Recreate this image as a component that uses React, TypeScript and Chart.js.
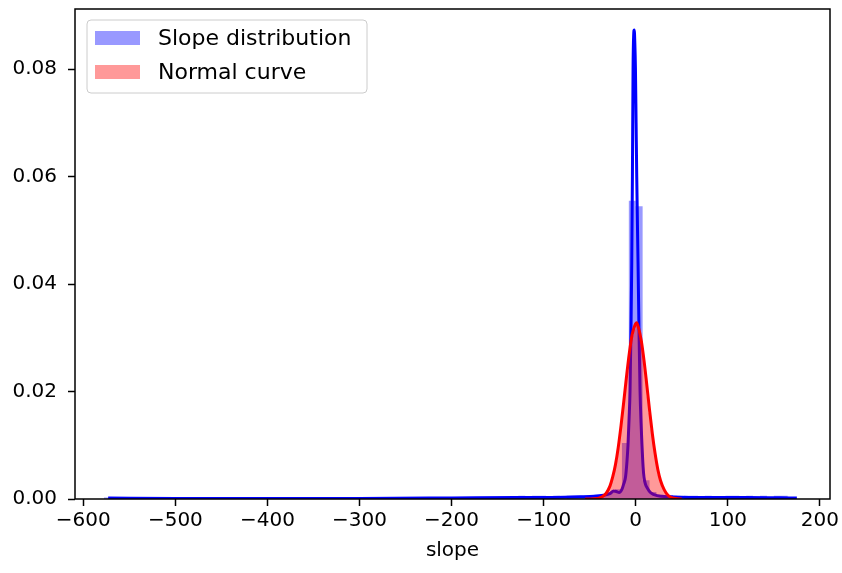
import React, { useEffect, useRef } from "react";
import { Chart, registerables } from "chart.js";

Chart.register(...registerables);

// ---------- data ----------
const seriesLabels = ["Slope distribution", "Normal curve"];
const xAxisLabel = "slope";
const xTicks = [-600, -500, -400, -300, -200, -100, 0, 100, 200];
const yTicks = [0, 0.02, 0.04, 0.06, 0.08];
const xRange = [-609, 211];
const yRange = [0, 0.0912];

// blue histogram: 100 bins of 7.5 starting at -577.5
const blueBinStart = -577.5;
const blueBinWidth = 7.5;
const blueHist = [
  0.0003, 0, 0, 0, 0, 0, 0, 0, 0, 0,
  0, 0, 0, 0, 0, 0, 0, 0, 0, 0,
  0, 0, 0, 0, 0, 0, 0, 0, 0, 0,
  0, 0, 0, 0, 0, 0, 0, 0, 0, 0,
  0, 0, 0, 0, 0, 0, 0, 0, 0, 0,
  0, 0, 0, 0, 0, 0, 0, 0, 0, 0,
  0.0006, 0, 0.0006, 0.0006, 0, 0.0006, 0, 0.0006, 0.0006, 0.0006,
  0.0006, 0.0008, 0.0008, 0.0013, 0.0018, 0.0104, 0.0555, 0.0545, 0.0035, 0.0013,
  0.0008, 0.0006, 0.0006, 0, 0.0006, 0.0006, 0, 0.0006, 0, 0,
  0.0006, 0.0006, 0, 0.0006, 0, 0.0006, 0, 0.0006, 0.0006, 0,
];

// red histogram: 52 bins of 2 starting at -54
const redBinStart = -54;
const redBinWidth = 2;
const redHist = [
  0, 0, 0, 0, 0, 0.0001, 0.0001, 0.0002, 0.0004, 0.0005,
  0.0009, 0.0013, 0.0019, 0.0029, 0.0039, 0.0056, 0.0071, 0.0094, 0.0118, 0.0149,
  0.0176, 0.0208, 0.0238, 0.0266, 0.0289, 0.0305, 0.0316, 0.0322, 0.0312, 0.0298,
  0.0279, 0.025, 0.0221, 0.0191, 0.016, 0.013, 0.0104, 0.008, 0.0061, 0.0045,
  0.0032, 0.0022, 0.0015, 0.001, 0.0006, 0.0004, 0.0003, 0.0002, 0.0001, 0.0001,
  0, 0,
];

// blue density curve
const blueKdeX = [
  -573, -500, -400, -300, -200, -130, -90, -60, -45, -35, -28, -24, -21, -18, -15, -13,
  -11, -9.5, -8.4, -7.2, -6.2, -5.2, -4.3, -3.6, -2.9, -2.2, -1.6, -1.0, -0.3, 0.4,
  1.1, 2.5, 3.6, 4.7, 5.8, 6.8, 8, 9, 10.5, 12.7, 16, 20, 27, 40, 70, 120, 175,
];
const blueKdeY = [
  0.0002, 0.0001, 0.0001, 0.0001, 0.0002, 0.0003, 0.0003, 0.0004, 0.0005, 0.0007, 0.001, 0.0015, 0.0014, 0.0012, 0.0018, 0.0028,
  0.0042, 0.007, 0.01, 0.015, 0.02, 0.031, 0.044, 0.06, 0.08, 0.0865, 0.0873, 0.085, 0.08, 0.07,
  0.06, 0.044, 0.031, 0.02, 0.014, 0.01, 0.006, 0.004, 0.0028, 0.002, 0.0012, 0.0008, 0.0005, 0.0004, 0.0003, 0.0003, 0.0002,
];

// red normal curve
const redKdeX = [
  -55, -50, -45, -40, -36, -32, -28, -25, -22, -19, -16, -13, -10, -7, -4, -1, 1,
  3, 6, 9, 12, 15, 18, 21, 24, 27, 31, 35, 40, 45, 50,
];
const redKdeY = [
  0, 0.00001, 0.00004, 0.00017, 0.00045, 0.0011, 0.0024, 0.0041, 0.0064, 0.0096, 0.0136, 0.0181, 0.0228, 0.0271, 0.0305, 0.0323, 0.0328,
  0.0319, 0.0295, 0.0258, 0.0213, 0.0166, 0.0122, 0.0085, 0.0055, 0.0034, 0.0017, 0.0007, 0.0002, 0.00006, 0.00001,
];

// ---------- helpers ----------
const FONT = "'DejaVu Sans', 'Liberation Sans', sans-serif";
const TICK_SIZE = 20;
const LEGEND_SIZE = 22;

function stepPoints(start: number, width: number, h: number[]) {
  const pts: { x: number; y: number }[] = [{ x: start, y: 0 }];
  h.forEach((v, i) => pts.push({ x: start + i * width, y: v }));
  const end = start + h.length * width;
  pts.push({ x: end, y: h[h.length - 1] });
  pts.push({ x: end, y: 0 });
  return pts;
}

function zip(xs: number[], ys: number[]) {
  return xs.map((x, i) => ({ x, y: ys[i] }));
}

function fmtX(v: number) {
  return v < 0 ? "\u2212" + Math.abs(v) : String(v);
}

const frameLegendPlugin = {
  id: "frameLegend",
  afterDraw(chart: any) {
    const { ctx, chartArea } = chart;
    ctx.save();
    // frame
    ctx.strokeStyle = "#000";
    ctx.lineWidth = 1.5;
    ctx.strokeRect(chartArea.left, chartArea.top, chartArea.right - chartArea.left, chartArea.bottom - chartArea.top);

    // legend
    const items = chart.data.datasets.filter((d: any) => d.inLegend);
    const bx = chartArea.left + 12;
    const by = chartArea.top + 11;
    const bw = 280;
    const bh = 73;
    const r = 4;
    ctx.beginPath();
    ctx.moveTo(bx + r, by);
    ctx.lineTo(bx + bw - r, by);
    ctx.arcTo(bx + bw, by, bx + bw, by + r, r);
    ctx.lineTo(bx + bw, by + bh - r);
    ctx.arcTo(bx + bw, by + bh, bx + bw - r, by + bh, r);
    ctx.lineTo(bx + r, by + bh);
    ctx.arcTo(bx, by + bh, bx, by + bh - r, r);
    ctx.lineTo(bx, by + r);
    ctx.arcTo(bx, by, bx + r, by, r);
    ctx.closePath();
    ctx.fillStyle = "rgba(255,255,255,0.8)";
    ctx.fill();
    ctx.strokeStyle = "#cccccc";
    ctx.lineWidth = 1;
    ctx.stroke();

    ctx.font = `${LEGEND_SIZE}px ${FONT}`;
    ctx.textBaseline = "middle";
    ctx.textAlign = "left";
    items.forEach((d: any, i: number) => {
      const cy = by + 18 + i * 34;
      ctx.fillStyle = d.backgroundColor;
      ctx.fillRect(bx + 8, cy - 7, 45, 14);
      ctx.fillStyle = "#000";
      ctx.fillText(d.label, bx + 71, cy + 1);
    });
    ctx.restore();
  },
};

export default function App() {
  const ref = useRef<HTMLCanvasElement | null>(null);

  useEffect(() => {
    document.body.style.margin = "0";
    const canvas = ref.current;
    if (!canvas) return;

    const tickFont = { family: FONT, size: TICK_SIZE };

    const chart = new Chart(canvas, {
      type: "line",
      data: {
        datasets: [
          {
            label: seriesLabels[0],
            inLegend: true,
            data: stepPoints(blueBinStart, blueBinWidth, blueHist),
            stepped: "before",
            fill: "origin",
            backgroundColor: "rgba(0,0,255,0.4)",
            borderWidth: 0,
            pointRadius: 0,
            order: 4,
          } as any,
          {
            label: "kde",
            data: zip(blueKdeX, blueKdeY),
            borderColor: "#0000ff",
            borderWidth: 3,
            pointRadius: 0,
            fill: false,
            cubicInterpolationMode: "monotone",
            order: 3,
          } as any,
          {
            label: seriesLabels[1],
            inLegend: true,
            data: stepPoints(redBinStart, redBinWidth, redHist),
            stepped: "before",
            fill: "origin",
            backgroundColor: "rgba(255,0,0,0.4)",
            borderWidth: 0,
            pointRadius: 0,
            order: 2,
          } as any,
          {
            label: "fit",
            data: zip(redKdeX, redKdeY),
            borderColor: "#ff0000",
            borderWidth: 3,
            pointRadius: 0,
            fill: false,
            cubicInterpolationMode: "monotone",
            order: 1,
          } as any,
        ],
      },
      options: {
        animation: false,
        responsive: false,
        devicePixelRatio: 1,
        layout: { padding: { left: 0, top: 9, right: 12, bottom: 0 } },
        plugins: {
          legend: { display: false },
          tooltip: { enabled: false },
        },
        scales: {
          x: {
            type: "linear",
            min: xRange[0],
            max: xRange[1],
            afterBuildTicks: (s: any) => {
              s.ticks = xTicks.map((v) => ({ value: v }));
            },
            afterFit: (s: any) => {
              s.height = 74;
              s.paddingLeft = 0;
              s.paddingRight = 0;
            },
            ticks: {
              autoSkip: false,
              maxRotation: 0,
              padding: 3,
              color: "#000",
              font: tickFont,
              callback: (v: any) => fmtX(Number(v)),
            },
            grid: {
              display: true,
              drawOnChartArea: false,
              drawTicks: true,
              tickLength: 7,
              tickColor: "#000",
              tickWidth: 1.5,
            },
            border: { display: false },
            title: {
              display: true,
              text: xAxisLabel,
              color: "#000",
              font: tickFont,
              padding: { top: 0, bottom: 10 },
            },
          },
          y: {
            type: "linear",
            min: yRange[0],
            max: yRange[1],
            afterBuildTicks: (s: any) => {
              s.ticks = yTicks.map((v) => ({ value: v }));
            },
            afterFit: (s: any) => {
              s.width = 75;
              s.paddingTop = 0;
              s.paddingBottom = 0;
            },
            ticks: {
              padding: 11,
              color: "#000",
              font: tickFont,
              callback: (v: any) => Number(v).toFixed(2),
            },
            grid: {
              display: true,
              drawOnChartArea: false,
              drawTicks: true,
              tickLength: 7,
              tickColor: "#000",
              tickWidth: 1.5,
            },
            border: { display: false },
          },
        },
      } as any,
      plugins: [frameLegendPlugin],
    });

    return () => chart.destroy();
  }, []);

  return (
    <div style={{ width: 842, height: 573, background: "#fff" }}>
      <canvas ref={ref} width={842} height={573} style={{ display: "block" }} />
    </div>
  );
}
